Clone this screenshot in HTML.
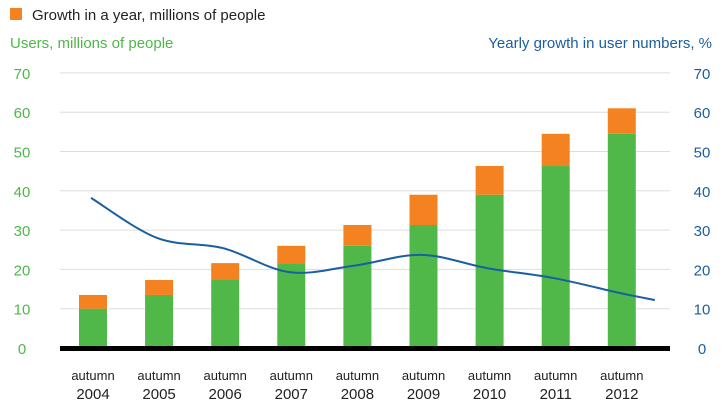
<!DOCTYPE html>
<html><head><meta charset="utf-8"><style>
body{margin:0;background:#fff;width:724px;height:413px;overflow:hidden;font-family:"Liberation Sans",sans-serif}
</style></head><body>
<svg id="c" width="724" height="413"></svg>
<script>
const categories=["2004","2005","2006","2007","2008","2009","2010","2011","2012"];
const users=[10,13.5,17.3,21.6,26,31.3,39,46.3,54.5];
const growth=[3.5,3.8,4.3,4.4,5.3,7.7,7.3,8.2,6.5];
const yearlyPct=[38.2,28,25.4,19.3,21,23.7,20.3,17.8,14,12.2];
const ticks=[0,10,20,30,40,50,60,70];
const NS="http://www.w3.org/2000/svg";
const svg=document.getElementById('c');
function el(t,a,p){const e=document.createElementNS(NS,t);for(const k in a)e.setAttribute(k,a[k]);(p||svg).appendChild(e);return e;}
const y=v=>348-v*3.93;
const x=i=>93+i*66.1;
// legend
let e=el('rect',{x:10,y:8,width:12,height:12,fill:'#f58220'});

e=el('text',{x:32,y:20,'font-size':15,fill:'#222'});e.textContent='Growth in a year, millions of people';

e=el('text',{x:10,y:48,'font-size':15,fill:'#4db848'});e.textContent='Users, millions of people';

e=el('text',{x:712,y:48,'font-size':15,fill:'#1a5fa0','text-anchor':'end'});e.textContent='Yearly growth in user numbers, %';

ticks.forEach(t=>{
 if(t>0){e=el('line',{x1:60,x2:670,y1:y(t),y2:y(t),stroke:'#ddd','stroke-width':1});
 }
 e=el('text',{x:22,y:y(t)+6,'font-size':15,fill:'#4db848','text-anchor':'middle'});e.textContent=t;
 
 e=el('text',{x:702,y:y(t)+6,'font-size':15,fill:'#1a5fa0','text-anchor':'middle'});e.textContent=t;
 
});
categories.forEach((c,i)=>{
 e=el('rect',{x:x(i)-14,y:y(users[i]),width:28,height:y(0)-y(users[i]),fill:'#50b848'});
 
 e=el('rect',{x:x(i)-14,y:y(users[i]+growth[i]),width:28,height:y(users[i])-y(users[i]+growth[i]),fill:'#f58220'});
 
 e=el('text',{x:x(i),y:380,'font-size':13,fill:'#222','text-anchor':'middle'});e.textContent='autumn';
 
 e=el('text',{x:x(i),y:399,'font-size':15,fill:'#222','text-anchor':'middle'});e.textContent=c;
 
});
e=el('rect',{x:60,y:346,width:610,height:5,fill:'#000'});

const pts=yearlyPct.map((v,i)=>[i<9?x(i)-2:x(8)+33,y(v)]);
let d='M'+pts[0][0]+','+pts[0][1];
for(let i=0;i<pts.length-1;i++){
 const p0=pts[Math.max(0,i-1)],p1=pts[i],p2=pts[i+1],p3=pts[Math.min(pts.length-1,i+2)];
 d+=` C${p1[0]+(p2[0]-p0[0])/6},${p1[1]+(p2[1]-p0[1])/6} ${p2[0]-(p3[0]-p1[0])/6},${p2[1]-(p3[1]-p1[1])/6} ${p2[0]},${p2[1]}`;
}
e=el('path',{d:d,fill:'none',stroke:'#1a5fa0','stroke-width':2});

</script>
</body></html>
